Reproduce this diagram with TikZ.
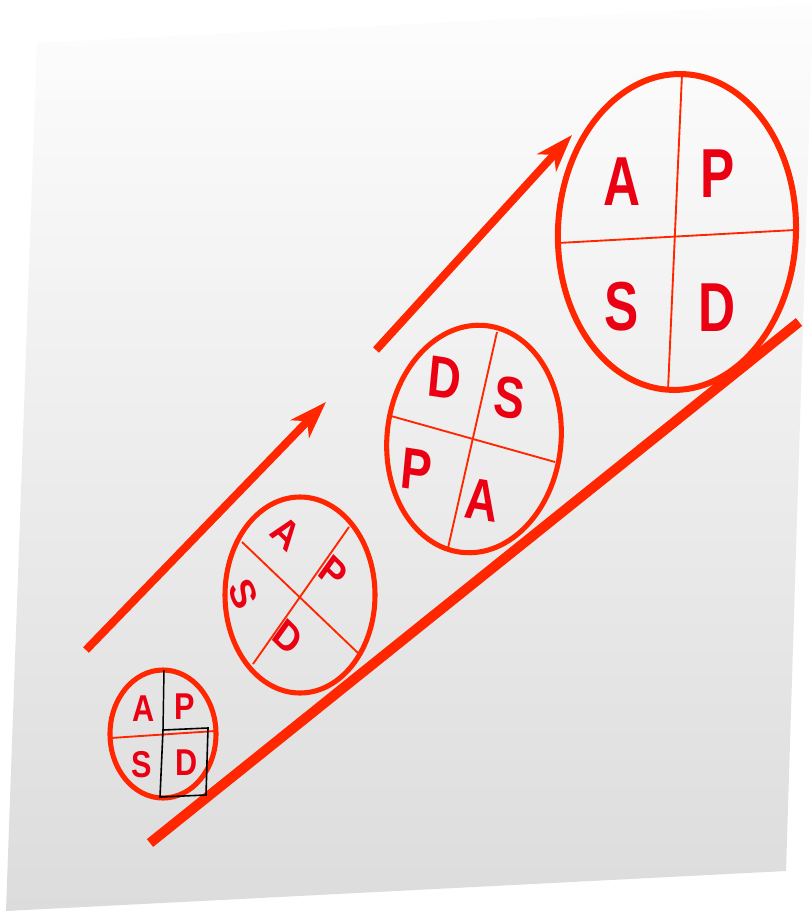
\documentclass[tikz,border=0pt]{standalone}
\usepackage{fontspec}
\setmainfont{Liberation Sans}
\usetikzlibrary{arrows.meta}
\definecolor{ringred}{HTML}{FF2600}
\definecolor{letred}{HTML}{EA0012}
\definecolor{pagetop}{HTML}{FDFDFD}
\definecolor{pagebot}{HTML}{DCDCDC}
\begin{document}
\begin{tikzpicture}[x=0.75pt,y=-0.75pt,
  ring/.style={draw=ringred, line width=#1},
  divider/.style={draw=ringred, line width=1.4pt},
  ltr/.style={text=letred, inner sep=0pt, font=\bfseries\fontsize{#1}{#1}\selectfont},
  uparrow/.style={draw=ringred, line width=6pt, -{Stealth[length=28pt, width=19pt, inset=8pt]}},
  ground/.style={draw=ringred, line width=7.5pt}]
\useasboundingbox (0,0) rectangle (811,912);
\fill[white] (0,0) rectangle (811,912);
% page
\shade[top color=pagetop, bottom color=pagebot] (37,43) -- (813,4) -- (786,871) -- (6,911) -- cycle;

% ground line
\coordinate (g1) at (150,843);
\coordinate (g2) at (799,322);
\draw[ground] (g1) -- (g2);

% arrows
\coordinate (a1s) at (86,650);
\coordinate (a1e) at (326,402);
\coordinate (a2s) at (376,350);
\coordinate (a2e) at (572,135);
\draw[uparrow] (a1s) -- (a1e);
\draw[uparrow] (a2s) -- (a2e);

% circle 1
\coordinate (c1) at (163,734);
\draw[ring=3.8pt] (c1) ellipse [x radius=39.75pt, y radius=48pt];
\coordinate (c1t) at (164,670);
\coordinate (c1l) at (111,738);
\coordinate (c1r) at (215,731);
\draw[divider] (c1l) -- (c1r);
\coordinate (q1) at (163,730);
\coordinate (q2) at (208,728);
\coordinate (q3) at (206,795);
\coordinate (q4) at (160,797);
\draw[black, line width=1.1pt] (c1t) -- (q1);
\draw[black, line width=1.2pt] (q1) -- (q2) -- (q3) -- (q4) -- cycle;
\node[ltr=28pt, xscale=0.82] (c1A) at (144,709) {A};
\node[ltr=28pt, xscale=0.82] (c1P) at (185,707) {P};
\node[ltr=28pt, xscale=0.82] (c1S) at (142,765) {S};
\node[ltr=28pt, xscale=0.82] (c1D) at (187,763) {D};

% circle 2
\coordinate (c2) at (300,595);
\draw[ring=3.8pt] (c2) ellipse [x radius=56.25pt, y radius=73.5pt];
\coordinate (c2a) at (242,542);
\coordinate (c2b) at (358,653);
\coordinate (c2c) at (349,527);
\coordinate (c2d) at (253,664);
\draw[divider] (c2a) -- (c2b);
\draw[divider] (c2c) -- (c2d);
\node[ltr=31pt, xscale=0.85, rotate=-40] (c2A) at (286,533) {A};
\node[ltr=31pt, xscale=0.85, rotate=-40] (c2P) at (333,572) {P};
\node[ltr=31pt, xscale=0.85, rotate=-65] (c2S) at (243,594) {S};
\node[ltr=31pt, xscale=0.85, rotate=-40] (c2D) at (288,637) {D};

% circle 3
\coordinate (c3) at (474,439);
\draw[ring=3.8pt, rotate around={-6:(c3)}] (c3) ellipse [x radius=65.25pt, y radius=85.5pt];
\coordinate (c3t) at (497,332);
\coordinate (c3b) at (448,548);
\coordinate (c3l) at (391,416);
\coordinate (c3r) at (555,462);
\draw[divider] (c3t) -- (c3b);
\draw[divider] (c3l) -- (c3r);
\node[ltr=44pt, xscale=0.78, rotate=-7] (c3D) at (445,378) {D};
\node[ltr=44pt, xscale=0.78, rotate=-7] (c3S) at (510,398) {S};
\node[ltr=44pt, xscale=0.78, rotate=-7] (c3P) at (417,470) {P};
\node[ltr=44pt, xscale=0.78, rotate=-7] (c3A) at (482,500) {A};

% circle 4
\coordinate (c4) at (677,232);
\draw[ring=4.5pt, rotate around={-2.5:(c4)}] (c4) ellipse [x radius=89.25pt, y radius=118.5pt];
\coordinate (c4t) at (682,74);
\coordinate (c4b) at (668,390);
\coordinate (c4l) at (558,243);
\coordinate (c4r) at (795,230);
\draw[divider] (c4t) -- (c4b);
\draw[divider] (c4l) -- (c4r);
\node[ltr=52pt, xscale=0.74] (c4A) at (622,182) {A};
\node[ltr=52pt, xscale=0.74] (c4P) at (718,174) {P};
\node[ltr=52pt, xscale=0.74] (c4S) at (622,307) {S};
\node[ltr=52pt, xscale=0.74] (c4D) at (717,308) {D};
\end{tikzpicture}
\end{document}
